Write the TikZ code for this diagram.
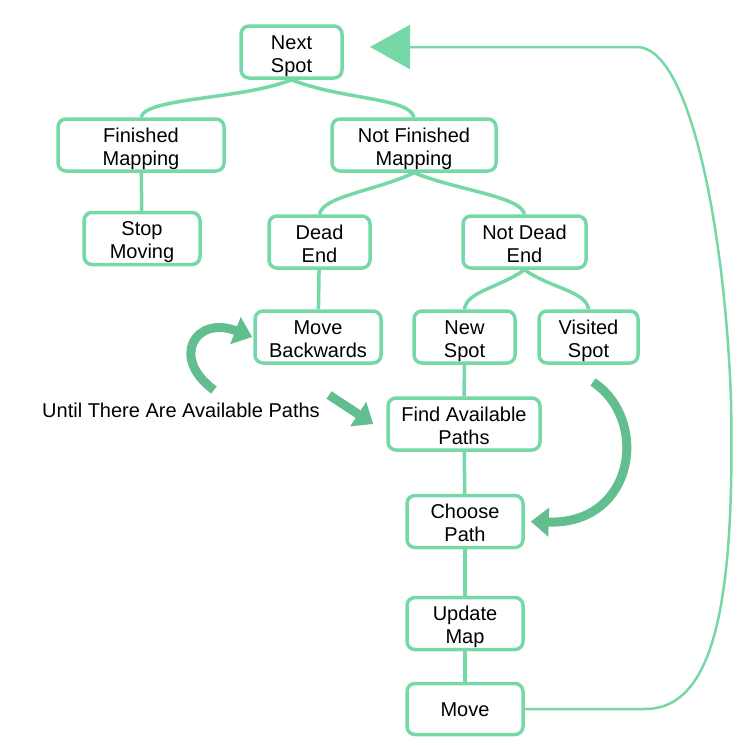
\documentclass[tikz,border=0pt]{standalone}
\usepackage{fontspec}
\setmainfont{Liberation Sans}
\usetikzlibrary{arrows.meta}
\definecolor{mint}{RGB}{118,216,166}
\definecolor{fatgreen}{RGB}{98,190,142}
\begin{document}
\begin{tikzpicture}[x=1pt,y=-1pt,
    font=\fontsize{20}{23}\selectfont,
    box/.style={draw=mint,line width=3.5pt,rounded corners=8pt,align=center,inner sep=0pt,minimum height=52pt,
      text height=40pt,text depth=0pt},
    link/.style={mint,line width=3.5pt},
    fat/.style={fatgreen,line width=9pt,-{Triangle[length=18pt,width=28pt]}},
    retline/.style={mint,line width=2.5pt,-{Triangle[length=40pt,width=44pt]}}]
      \useasboundingbox (0,0) rectangle (742,745);
      \draw
        (291.5,52) node[box,minimum width=101pt] (next){Next\\Spot}
        (141,145) node[box,minimum width=166pt] (fin){Finished\\Mapping}
        (414,145) node[box,minimum width=164pt] (nfin){Not Finished\\Mapping}
        (142,238.5) node[box,minimum width=116pt] (stop){Stop\\Moving}
        (319.5,242) node[box,minimum width=101pt] (dead){Dead\\End}
        (524.5,242) node[box,minimum width=123pt] (ndead){Not Dead\\End}
        (318,337) node[box,minimum width=126pt] (back){Move\\Backwards}
        (464.5,337) node[box,minimum width=101pt] (new){New\\Spot}
        (588.5,337) node[box,minimum width=99pt] (visited){Visited\\Spot}
        (464,424) node[box,minimum width=152pt] (find){Find Available\\Paths}
        (465,521.5) node[box,minimum width=116pt] (choose){Choose\\Path}
        (465,623.5) node[box,minimum width=116pt] (update){Update\\Map}
        (465,709) node[box,minimum width=116pt,minimum height=51pt,text height=14pt] (move){Move}
        (181,410) node (until){Until There Are Available Paths};
      \coordinate (nextin) at (370,47);
      \coordinate (loopin) at (214,390);
      \coordinate (untilout) at (329,395);
      \coordinate (visout) at (593,382);
      \begin{scope}[link]
        \draw (next.south) .. controls +(-50,20) and +(5,-20) .. (fin.north);
        \draw (next.south) .. controls +(50,20) and +(-5,-20) .. (nfin.north);
        \draw (fin) -- (stop);
        \draw (nfin.south) .. controls +(-38,18) and +(3,-18) .. (dead.north);
        \draw (nfin.south) .. controls +(45,18) and +(-4,-18) .. (ndead.north);
        \draw (dead) -- (back);
        \draw (ndead.south) .. controls +(-25,18) and +(2,-18) .. (new.north);
        \draw (ndead.south) .. controls +(25,18) and +(-2,-18) .. (visited.north);
        \draw (new) -- (find);
        \draw (find) -- (choose);
        \draw (choose) -- (update);
        \draw (update) -- (move);
      \end{scope}
      \draw[retline] (move.east) -- (645,709) .. controls (715,709) and (735,600) .. (731,400)
        .. controls (725,230) and (690,47) .. (637,47) -- (nextin);
      \draw[fat] (loopin) .. controls (170,358) and (195,315) .. ([xshift=-1pt]back.west);
      \draw[fat] (untilout) -- ([xshift=-13pt]find.west);
      \draw[fat] (visout) .. controls (650,420) and (635,525) .. ([xshift=6pt]choose.east);
\end{tikzpicture}
\end{document}
